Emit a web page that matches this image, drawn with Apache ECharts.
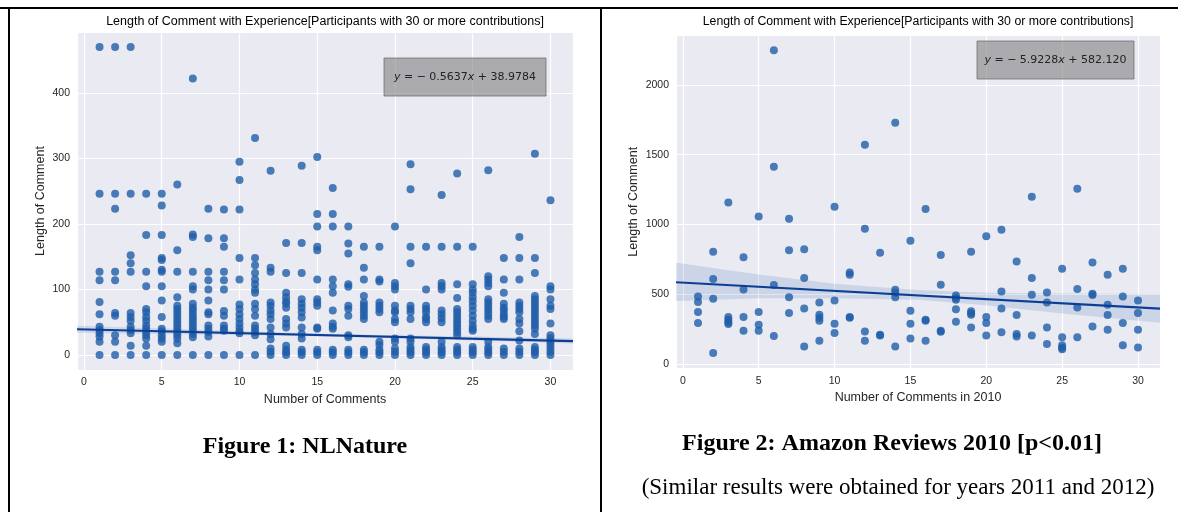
<!DOCTYPE html>
<html>
<head>
<meta charset="utf-8">
<script src="https://cdn.jsdelivr.net/npm/echarts@6/dist/echarts.min.js"></script>
<style>
html, body { margin: 0; padding: 0; background: #fff; }
#chart { width: 1178px; height: 512px; }
</style>
</head>
<body>
<div id="chart"></div>
<script>
// number of comments (x) shared by both panels
const commentCounts = [1, 2, 3, 4, 5, 6, 7, 8, 9, 10, 11, 12, 13, 14, 15,
  16, 17, 18, 19, 20, 21, 22, 23, 24, 25, 26, 27, 28, 29, 30];

// Figure 1 (NLNature): comment lengths per x
const nlLengths = [
  [470, 246, 127, 114, 81, 62, 43, 38, 33, 28, 20, 0],
  [470, 246, 223, 127, 114, 64, 60, 30, 20, 0],
  [470, 246, 152, 140, 127, 64, 58, 52, 43, 38, 33, 14, 0],
  [246, 183, 127, 105, 70, 65, 58, 52, 45, 40, 35, 30, 25, 14, 0],
  [246, 228, 183, 148, 145, 130, 127, 105, 83, 58, 40, 36, 30, 25, 20, 0],
  [260, 160, 127, 88, 75, 70, 65, 60, 55, 50, 45, 40, 35, 30, 25, 18, 0],
  [422, 184, 180, 127, 105, 100, 78, 72, 68, 62, 57, 52, 47, 42, 37, 32, 27, 0],
  [223, 178, 127, 114, 100, 83, 65, 62, 45, 40, 35, 28, 0],
  [222, 178, 165, 127, 114, 100, 67, 60, 45, 40, 37, 0],
  [295, 267, 222, 148, 115, 77, 70, 62, 55, 48, 42, 36, 33, 0],
  [331, 148, 137, 125, 115, 108, 100, 95, 78, 70, 60, 45, 40, 35, 30, 0],
  [281, 133, 127, 80, 75, 68, 62, 55, 42, 32, 24, 10, 5, 0],
  [171, 125, 95, 88, 82, 78, 72, 55, 48, 42, 14, 8, 4, 0],
  [289, 171, 125, 85, 78, 72, 65, 57, 42, 32, 25, 8, 4, 0],
  [302, 215, 196, 165, 160, 115, 85, 80, 75, 42, 40, 8, 4, 0],
  [255, 215, 196, 115, 105, 95, 68, 48, 43, 40, 8, 4, 0],
  [196, 170, 155, 108, 104, 75, 70, 60, 30, 27, 8, 4, 0],
  [165, 133, 115, 90, 80, 75, 70, 65, 60, 55, 8, 4, 0],
  [165, 115, 112, 80, 75, 70, 65, 20, 15, 8, 4, 0],
  [196, 110, 105, 100, 75, 68, 65, 55, 50, 25, 20, 10, 5, 0],
  [291, 253, 165, 140, 75, 70, 65, 55, 25, 20, 12, 8, 4, 0],
  [165, 100, 75, 70, 65, 58, 55, 50, 12, 8, 4, 0],
  [244, 165, 110, 105, 100, 68, 62, 56, 50, 20, 12, 8, 4, 0],
  [277, 165, 108, 87, 70, 65, 60, 55, 50, 45, 40, 35, 30, 12, 8, 4, 0],
  [165, 108, 100, 95, 88, 82, 75, 68, 60, 52, 45, 40, 37, 12, 8, 4, 0],
  [282, 120, 115, 110, 105, 85, 80, 75, 70, 65, 60, 55, 20, 12, 8, 4, 0],
  [148, 115, 95, 78, 72, 68, 62, 58, 55, 10, 5, 0],
  [180, 148, 115, 80, 75, 70, 65, 55, 48, 36, 22, 10, 5, 0],
  [307, 148, 125, 90, 85, 80, 75, 70, 65, 60, 55, 50, 45, 40, 32, 12, 8, 4, 0],
  [236, 105, 100, 85, 75, 70, 48, 30, 25, 20, 15, 10, 5, 0]
];

// Figure 2 (Amazon 2010): comment lengths per x
const amzLengths = [
  [483, 443, 371, 292],
  [804, 608, 466, 77],
  [1158, 335, 316, 297, 285],
  [764, 533, 335, 237],
  [1057, 371, 280, 237],
  [2250, 1413, 565, 199],
  [1040, 814, 478, 364],
  [821, 615, 397, 124],
  [440, 352, 330, 309, 165],
  [1127, 454, 287, 220],
  [655, 639, 335, 330],
  [1571, 969, 232, 165],
  [797, 208, 203],
  [1729, 531, 510, 478, 124],
  [882, 380, 287, 182],
  [1111, 316, 309, 165],
  [781, 567, 237, 230],
  [490, 472, 459, 392, 301],
  [804, 376, 362, 352, 261],
  [915, 335, 292, 203],
  [962, 519, 397, 227],
  [734, 349, 213, 196],
  [1198, 615, 495, 203],
  [512, 440, 261, 141],
  [682, 191, 132, 115, 105],
  [1255, 536, 404, 191],
  [727, 502, 493, 268],
  [639, 423, 349, 244],
  [682, 483, 292, 132],
  [454, 364, 244, 117]
];

// regression lines (ends of the x range)
const fitX = [-0.45, 31.45];
const nlFitY = [39.2, 21.2];
const amzFitY = [584.8, 395.8];

// confidence bands
const ciX = [-0.45, 5, 10, 15.5, 20, 25, 31.45];
const nlCiLow = [34, 32, 30.5, 28, 25.5, 22, 17.5];
const nlCiHigh = [44.5, 40.5, 36.5, 32.5, 30, 28, 25];
const amzCiLow = [450, 470, 470, 460, 420, 360, 295];
const amzCiHigh = [725, 640, 575, 530, 510, 505, 500];

const FONT = "'Liberation Sans', Arial, sans-serif";
const dotColor = '#1f5ea9';
const lineColor = '#0c3f93';

function points(lengths) {
  return commentCounts.flatMap((x, i) => lengths[i].map(v => [x, v]));
}

function tickFmt(step) {
  return v => (Math.abs(v % step) < 1e-6 ? String(v) : '');
}

function xAxisOf(idx, name) {
  return {
    type: 'value', gridIndex: idx, min: -0.45, max: 31.45,
    name: name, nameLocation: 'middle', nameGap: 22,
    nameTextStyle: { fontFamily: FONT, fontSize: 12.5, color: '#262626' },
    axisLine: { show: false }, axisTick: { show: false },
    axisLabel: { fontFamily: FONT, fontSize: 10.5, color: '#262626', margin: 7,
      showMinLabel: false, showMaxLabel: false, formatter: tickFmt(5) },
    splitLine: { lineStyle: { color: '#fff', width: 1.2 } }
  };
}

function yAxisOf(idx, min, max, step, gap) {
  return {
    type: 'value', gridIndex: idx, min: min, max: max,
    name: 'Length of Comment', nameLocation: 'middle', nameGap: gap, nameRotate: 90,
    nameTextStyle: { fontFamily: FONT, fontSize: 12.5, color: '#262626' },
    axisLine: { show: false }, axisTick: { show: false },
    axisLabel: { fontFamily: FONT, fontSize: 10.5, color: '#262626', margin: 7,
      showMinLabel: false, showMaxLabel: false, formatter: tickFmt(step) },
    splitLine: { lineStyle: { color: '#fff', width: 1.2 } }
  };
}

function bandSeries(idx, low, high) {
  return {
    type: 'custom', xAxisIndex: idx, yAxisIndex: idx, z: 4, silent: true,
    data: ciX.map((x, i) => [x, low[i], high[i]]),
    encode: { x: 0, y: [1, 2] },
    renderItem: function (params, api) {
      if (params.dataIndex !== 0) return null;
      const pts = [];
      ciX.forEach((x, i) => pts.push(api.coord([x, high[i]])));
      for (let i = ciX.length - 1; i >= 0; i--) pts.push(api.coord([ciX[i], low[i]]));
      return { type: 'polygon', shape: { points: pts },
        style: { fill: 'rgba(31,94,169,0.15)' } };
    }
  };
}

function scatterSeries(idx, lengths) {
  return {
    type: 'scatter', xAxisIndex: idx, yAxisIndex: idx, z: 3,
    symbolSize: 8, data: points(lengths),
    itemStyle: { color: dotColor, opacity: 0.8 }
  };
}

function fitSeries(idx, ys) {
  return {
    type: 'line', xAxisIndex: idx, yAxisIndex: idx, z: 5,
    showSymbol: false, symbol: 'none',
    data: fitX.map((x, i) => [x, ys[i]]),
    lineStyle: { color: lineColor, width: 2.2 }
  };
}

function eqBox(x, y, w, h, text) {
  return [
    { type: 'rect', z: 100, shape: { x: x, y: y, width: w, height: h },
      style: { fill: 'rgba(128,128,130,0.6)', stroke: 'rgba(100,100,100,0.7)', lineWidth: 1 } },
    { type: 'text', z: 101, style: {
        text: text, x: x + w / 2, y: y + h / 2, align: 'center', verticalAlign: 'middle',
        fontFamily: "'DejaVu Sans', sans-serif", fontSize: 11, fill: '#222',
        rich: { i: { fontFamily: "'DejaVu Sans', sans-serif", fontSize: 11, fontStyle: 'italic', fill: '#222' } }
      } }
  ];
}

function label(x, y, text, size, family, weight) {
  return { type: 'text', z: 100, style: {
    text: text, x: x, y: y, align: 'center', verticalAlign: 'middle',
    fontFamily: family, fontSize: size, fontWeight: weight || 'normal', fill: '#000' } };
}

const chart = echarts.init(document.getElementById('chart'));
const titleText = 'Length of Comment with Experience[Participants with 30 or more contributions]';
const serif = "'Liberation Serif', 'Times New Roman', serif";

chart.setOption({
  animation: false,
  grid: [
    { left: 77, top: 32, width: 496, height: 338, show: true, backgroundColor: '#eaeaf2', borderWidth: 0 },
    { left: 676, top: 35, width: 484, height: 333.5, show: true, backgroundColor: '#eaeaf2', borderWidth: 0 }
  ],
  xAxis: [xAxisOf(0, 'Number of Comments'), xAxisOf(1, 'Number of Comments in 2010')],
  yAxis: [yAxisOf(0, -23, 493, 100, 30), yAxisOf(1, -34, 2359, 500, 36)],
  series: [
    scatterSeries(0, nlLengths), bandSeries(0, nlCiLow, nlCiHigh), fitSeries(0, nlFitY),
    scatterSeries(1, amzLengths), bandSeries(1, amzCiLow, amzCiHigh), fitSeries(1, amzFitY)
  ],
  graphic: [
    // table borders
    { type: 'line', z: 100, shape: { x1: 0, y1: 8, x2: 1178, y2: 8 }, style: { stroke: '#000', lineWidth: 2 } },
    { type: 'line', z: 100, shape: { x1: 9, y1: 8, x2: 9, y2: 512 }, style: { stroke: '#000', lineWidth: 2 } },
    { type: 'line', z: 100, shape: { x1: 601, y1: 8, x2: 601, y2: 512 }, style: { stroke: '#000', lineWidth: 2 } },
    label(325, 22, titleText, 12.5, FONT),
    label(918, 22, titleText, 12.3, FONT),
    ...eqBox(384, 58, 162, 38, '{i|y} = − 0.5637{i|x} + 38.9784'),
    ...eqBox(977, 41, 157, 38, '{i|y} = − 5.9228{i|x} + 582.120'),
    label(305, 447, 'Figure 1: NLNature', 24, serif, 'bold'),
    label(892, 444, 'Figure 2: Amazon Reviews 2010 [p<0.01]', 24, serif, 'bold'),
    label(898, 488, '(Similar results were obtained for years 2011 and 2012)', 23, serif)
  ]
});
</script>
</body>
</html>
